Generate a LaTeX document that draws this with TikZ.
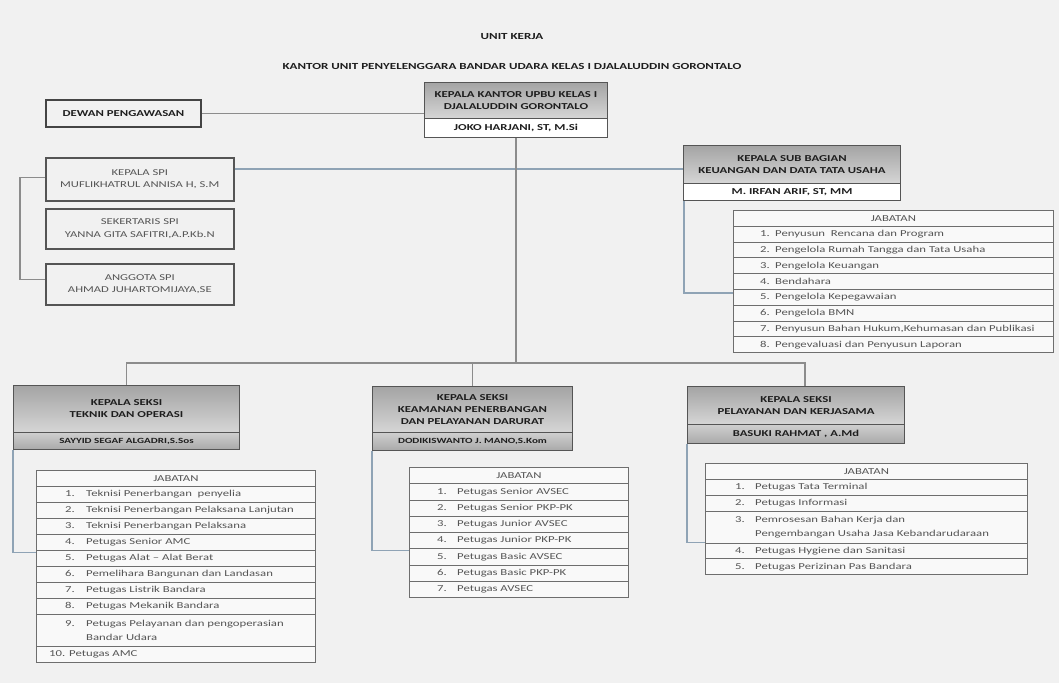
\documentclass[tikz,border=0pt]{standalone}
\usepackage{fontspec}
\setmainfont{Carlito}[FakeStretch=1.4]
\definecolor{bg}{HTML}{F1F1F1}
\definecolor{boxc}{HTML}{555555}
\definecolor{cellc}{HTML}{6E6E6E}
\definecolor{connc}{HTML}{8C8C8C}
\definecolor{bconnc}{HTML}{8FA3B5}
\definecolor{hdrtop}{HTML}{A4A4A4}
\definecolor{hdrbot}{HTML}{D6D6D6}
\definecolor{nmtop}{HTML}{CFCFCF}
\definecolor{nmbot}{HTML}{A9A9A9}
\definecolor{txtc}{HTML}{1E1E1E}
\definecolor{itmc}{HTML}{555555}
\def\numx{27pt}
\def\numw{15pt}
\newcommand\jrow[7]{%
  \node[cell, minimum width=#4, minimum height=#5] (#1) at (#2,#3) {};
  \node[itm, anchor=west] (#1t) at ([xshift=\numx]#1.west) {\makebox[\numw][l]{#6}#7};}
\begin{document}
\begin{tikzpicture}[x=1pt,y=-1pt,
  box/.style={draw=boxc, line width=1pt, inner sep=0pt, anchor=north west, align=center,
    text=txtc, font=\fontsize{9.1}{12}\selectfont\bfseries},
  hdr/.style={box, top color=hdrtop, bottom color=hdrbot},
  namew/.style={box, fill=white},
  nameg/.style={box, top color=nmtop, bottom color=nmbot, font=\fontsize{7.9}{10}\selectfont\bfseries},
  spibox/.style={draw=boxc, line width=1.6pt, inner sep=0pt, anchor=north west, align=center,
    fill=bg, text=itmc, font=\fontsize{9}{12.5}\selectfont},
  cell/.style={draw=cellc, line width=0.8pt, fill=white!60!bg, inner sep=0pt, anchor=north west,
    text=itmc, font=\fontsize{9.1}{10}\selectfont},
  itm/.style={inner sep=0pt, align=left, text=itmc, font=\fontsize{9.1}{13.5}\selectfont},
  conn/.style={draw=connc, line width=1.2pt},
  bconn/.style={draw=bconnc, line width=1.1pt},
  ttl/.style={inner sep=0pt, text=txtc, font=\fontsize{9.3}{10}\selectfont\bfseries}]
\fill[bg] (0,0) rectangle (1059,683);
\useasboundingbox (0,0) rectangle (1059,683);

% titles
\node[ttl] (t1) at (512,37) {UNIT KERJA};
\node[ttl] (t2) at (512,66) {KANTOR UNIT PENYELENGGARA BANDAR UDARA KELAS I DJALALUDDIN GORONTALO};

% main box
\node[hdr, minimum width=183, minimum height=36] (mainhead) at (424,82) {KEPALA KANTOR UPBU KELAS I\\DJALALUDDIN GORONTALO};
\node[namew, minimum width=183, minimum height=19] (mainname) at (424,118) {JOKO HARJANI, ST, M.Si};

% dewan
\node[box, line width=2pt, draw=boxc!80!black, fill=bg, minimum width=155, minimum height=27] (dewan) at (45,99) {DEWAN PENGAWASAN};
\draw[conn] (dewan.east) -- (dewan.east -| mainhead.west);

% SPI
\node[spibox, minimum width=188, minimum height=43] (kspi) at (45,157) {KEPALA SPI\\MUFLIKHATRUL ANNISA H, S.M};
\node[spibox, minimum width=188, minimum height=40] (sspi) at (45,208) {SEKERTARIS SPI\\YANNA GITA SAFITRI,A.P.Kb.N};
\node[spibox, minimum width=188, minimum height=41] (aspi) at (45,263) {ANGGOTA SPI\\AHMAD JUHARTOMIJAYA,SE};
\coordinate (spib) at (20,200);
\draw[conn] ([yshift=1.5pt]kspi.west) -| (spib) |- ([yshift=5pt]aspi.west);

% sub bagian
\node[hdr, minimum width=217, minimum height=38] (subhead) at (683,145) {KEPALA SUB BAGIAN\\KEUANGAN DAN DATA TATA USAHA};
\node[namew, minimum width=217, minimum height=17] (subname) at (683,183) {M. IRFAN ARIF, ST, MM};
\draw[bconn] ([yshift=-12pt]kspi.north east) -- ([yshift=-12pt]kspi.north east -| subhead.west);

% table sub bagian
\node[cell, minimum width=320, minimum height=15.8] (ka0) at (733,210) {JABATAN};
\def\numx{27pt}\def\numw{15pt}
\jrow{ka1}{733}{225.8}{320}{15.8}{1.}{Penyusun\ \ Rencana dan Program}
\jrow{ka2}{733}{241.6}{320}{15.8}{2.}{Pengelola Rumah Tangga dan Tata Usaha}
\jrow{ka3}{733}{257.4}{320}{15.8}{3.}{Pengelola Keuangan}
\jrow{ka4}{733}{273.2}{320}{15.8}{4.}{Bendahara}
\jrow{ka5}{733}{289}{320}{15.8}{5.}{Pengelola Kepegawaian}
\jrow{ka6}{733}{304.8}{320}{15.8}{6.}{Pengelola BMN}
\jrow{ka7}{733}{320.6}{320}{15.8}{7.}{Penyusun Bahan Hukum,Kehumasan dan Publikasi}
\jrow{ka8}{733}{336.4}{320}{15.8}{8.}{Pengevaluasi dan Penyusun Laporan}
\draw[bconn] ([xshift=1pt]subname.south west) |- ([yshift=-4pt]ka5.north west);

% bus
\coordinate (bus) at (516,363);
\coordinate (busR) at (805,363);
\draw[conn] (mainname.south) -- (mainname.south |- bus);

% bottom boxes
\node[hdr, minimum width=226, minimum height=47] (lhead) at (13,385) {KEPALA SEKSI\\TEKNIK DAN OPERASI};
\node[nameg, minimum width=226, minimum height=17] (lname) at (13,432) {SAYYID SEGAF ALGADRI,S.Sos};
\node[hdr, minimum width=200, minimum height=46] (mhead) at (372,386) {KEPALA SEKSI\\KEAMANAN PENERBANGAN\\DAN PELAYANAN DARURAT};
\node[nameg, minimum width=200, minimum height=18] (mname) at (372,432) {DODIKISWANTO J. MANO,S.Kom};
\node[hdr, minimum width=217, minimum height=38] (rhead) at (687,386) {KEPALA SEKSI\\PELAYANAN DAN KERJASAMA};
\node[nameg, minimum width=217, minimum height=19, font=\fontsize{9}{10}\selectfont\bfseries] (rname) at (687,424) {BASUKI RAHMAT , A.Md};

\draw[conn] (lhead.north) |- (busR) -- (busR |- rhead.north);
\draw[conn] (mhead.north) -- (mhead.north |- bus);

% left table
\node[cell, minimum width=279, minimum height=16] (la0) at (36,470) {JABATAN};
\def\numx{29pt}\def\numw{21pt}
\jrow{la1}{36}{486}{279}{16}{1.}{Teknisi Penerbangan\ \ penyelia}
\jrow{la2}{36}{502}{279}{16}{2.}{Teknisi Penerbangan Pelaksana Lanjutan}
\jrow{la3}{36}{518}{279}{16}{3.}{Teknisi Penerbangan Pelaksana}
\jrow{la4}{36}{534}{279}{16}{4.}{Petugas Senior AMC}
\jrow{la5}{36}{550}{279}{16}{5.}{Petugas Alat -- Alat Berat}
\jrow{la6}{36}{566}{279}{16}{6.}{Pemelihara Bangunan dan Landasan}
\jrow{la7}{36}{582}{279}{16}{7.}{Petugas Listrik Bandara}
\jrow{la8}{36}{598}{279}{16}{8.}{Petugas Mekanik Bandara}
\jrow{la9}{36}{614}{279}{32}{9.}{Petugas Pelayanan dan pengoperasian\\\hspace*{21pt}Bandar Udara}
\def\numx{13pt}\def\numw{20pt}
\jrow{la10}{36}{646}{279}{16}{10.}{Petugas AMC}
\draw[bconn] (lname.south west) |- ([yshift=-2pt]la4.south west);

% middle table
\node[cell, minimum width=219, minimum height=16.25] (ma0) at (409,467) {JABATAN};
\def\numx{28pt}\def\numw{20pt}
\jrow{ma1}{409}{483.25}{219}{16.25}{1.}{Petugas Senior AVSEC}
\jrow{ma2}{409}{499.5}{219}{16.25}{2.}{Petugas Senior PKP-PK}
\jrow{ma3}{409}{515.75}{219}{16.25}{3.}{Petugas Junior AVSEC}
\jrow{ma4}{409}{532}{219}{16.25}{4.}{Petugas Junior PKP-PK}
\jrow{ma5}{409}{548.25}{219}{16.25}{5.}{Petugas Basic AVSEC}
\jrow{ma6}{409}{564.5}{219}{16.25}{6.}{Petugas Basic PKP-PK}
\jrow{ma7}{409}{580.75}{219}{16.25}{7.}{Petugas AVSEC}
\draw[bconn] (mname.south west) |- ([yshift=-2pt]ma5.north west);

% right table
\node[cell, minimum width=322, minimum height=15.9] (ra0) at (705,463) {JABATAN};
\def\numx{30pt}\def\numw{20pt}
\jrow{ra1}{705}{478.9}{322}{15.9}{1.}{Petugas Tata Terminal}
\jrow{ra2}{705}{494.8}{322}{15.9}{2.}{Petugas Informasi}
\jrow{ra3}{705}{510.7}{322}{31.8}{3.}{Pemrosesan Bahan Kerja dan\\\hspace*{20pt}Pengembangan Usaha Jasa Kebandarudaraan}
\jrow{ra4}{705}{542.5}{322}{15.9}{4.}{Petugas Hygiene dan Sanitasi}
\jrow{ra5}{705}{558.4}{322}{15.9}{5.}{Petugas Perizinan Pas Bandara}
\draw[bconn] (rname.south west) |- (ra4.north west);
\end{tikzpicture}
\end{document}
